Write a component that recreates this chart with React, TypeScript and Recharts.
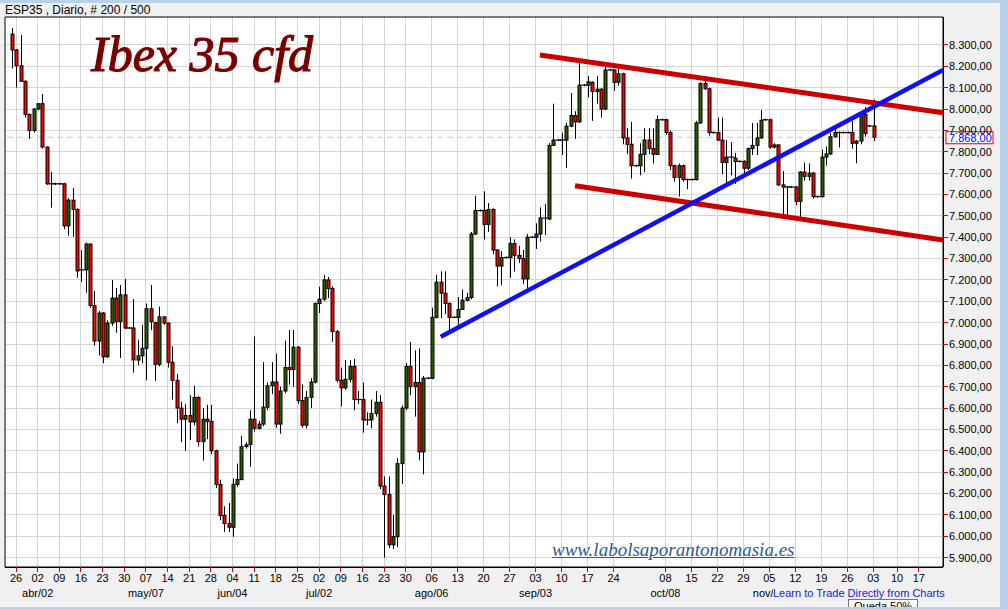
import React from 'react';
import { ComposedChart, Bar, XAxis, YAxis, CartesianGrid, ReferenceLine, ReferenceArea } from 'recharts';

// daily bars, [open, high, low, close]
const candles: [number, number, number, number][] = [
  [8351, 8379, 8190, 8277], [8277, 8280, 8100, 8203], [8203, 8347, 8127, 8130], [8130, 8135, 7960, 7975],
  [7975, 7980, 7860, 7900], [7900, 8005, 7890, 8000], [8000, 8025, 7995, 8025], [8025, 8070, 7815, 7822],
  [7822, 7825, 7645, 7650], [7650, 7705, 7538, 7650], [7650, 7655, 7645, 7650], [7650, 7655, 7645, 7650],
  [7650, 7655, 7437, 7453], [7453, 7584, 7407, 7574], [7574, 7630, 7402, 7530], [7530, 7535, 7210, 7242],
  [7242, 7340, 7190, 7247], [7247, 7375, 7140, 7368], [7368, 7370, 7070, 7080], [7080, 7148, 6892, 6914],
  [6914, 7055, 6846, 7045], [7045, 7050, 6810, 6840], [6840, 7010, 6835, 6998], [6998, 7200, 6985, 7115],
  [7115, 7162, 6953, 7005], [7005, 7176, 6835, 7130], [7130, 7205, 6970, 6975], [6975, 6980, 6970, 6975],
  [6975, 7110, 6766, 6825], [6825, 6920, 6800, 6845], [6845, 6990, 6810, 6880], [6880, 7090, 6730, 7065],
  [7065, 7176, 6965, 7005], [7000, 7005, 6728, 6805], [6805, 7075, 6795, 7027], [7027, 7030, 6990, 6998],
  [6998, 7000, 6790, 6815], [6815, 6890, 6640, 6730], [6730, 6760, 6530, 6600], [6600, 6630, 6440, 6548],
  [6548, 6620, 6400, 6565], [6565, 6660, 6450, 6535], [6535, 6705, 6520, 6650], [6650, 6655, 6420, 6443],
  [6443, 6600, 6354, 6548], [6548, 6615, 6455, 6538], [6538, 6615, 6385, 6400], [6400, 6405, 6225, 6243],
  [6243, 6265, 6075, 6097], [6097, 6140, 6020, 6060], [6060, 6155, 6020, 6042], [6042, 6270, 5997, 6243],
  [6243, 6340, 6230, 6265], [6265, 6470, 6265, 6420], [6420, 6440, 6410, 6428], [6430, 6590, 6325, 6548],
  [6548, 6935, 6490, 6505], [6505, 6540, 6500, 6525], [6525, 6815, 6515, 6604], [6604, 6720, 6590, 6705],
  [6705, 6815, 6665, 6722], [6722, 6855, 6508, 6525], [6525, 6700, 6480, 6680], [6680, 6915, 6670, 6790],
  [6790, 6965, 6710, 6780], [6780, 6965, 6700, 6885], [6885, 6890, 6620, 6635], [6635, 6710, 6508, 6520],
  [6520, 6680, 6505, 6650], [6650, 6740, 6600, 6722], [6722, 7095, 6715, 7090], [7090, 7168, 7045, 7110],
  [7110, 7224, 7100, 7200], [7200, 7214, 7115, 7160], [7160, 7170, 6910, 6958], [6958, 6965, 6720, 6730],
  [6730, 6790, 6608, 6695], [6695, 6825, 6685, 6735], [6735, 6825, 6720, 6795], [6795, 6830, 6590, 6640],
  [6640, 6680, 6620, 6640], [6640, 6720, 6485, 6545], [6545, 6580, 6520, 6545], [6545, 6640, 6505, 6575],
  [6575, 6680, 6560, 6627], [6627, 6660, 6220, 6235], [6235, 6280, 5900, 6195], [6195, 6280, 5945, 5960],
  [5960, 6100, 5940, 5998], [5998, 6365, 5950, 6340], [6340, 6612, 6245, 6600], [6600, 6810, 6590, 6795],
  [6795, 6910, 6660, 6700], [6700, 6870, 6560, 6720], [6720, 6880, 6355, 6395], [6395, 6750, 6290, 6740],
  [6740, 6745, 6735, 6740], [6740, 7070, 6735, 7025], [7025, 7224, 7020, 7190], [7190, 7240, 7020, 7138],
  [7138, 7240, 7040, 7090], [7090, 7095, 6965, 7025], [7025, 7030, 7020, 7025], [7025, 7120, 6990, 7062],
  [7062, 7155, 7060, 7105], [7105, 7140, 7100, 7118], [7118, 7425, 7110, 7415], [7415, 7595, 7410, 7525],
  [7525, 7530, 7520, 7525], [7525, 7615, 7390, 7460], [7460, 7560, 7425, 7530], [7530, 7535, 7320, 7340],
  [7340, 7345, 7170, 7265], [7265, 7335, 7175, 7305], [7305, 7310, 7300, 7305], [7305, 7400, 7210, 7370],
  [7370, 7390, 7240, 7315], [7315, 7360, 7280, 7300], [7300, 7340, 7180, 7205], [7205, 7415, 7160, 7400],
  [7400, 7405, 7395, 7400], [7400, 7465, 7345, 7415], [7415, 7540, 7380, 7490], [7490, 7555, 7410, 7490],
  [7485, 7840, 7480, 7830], [7830, 8025, 7830, 7855], [7855, 7860, 7850, 7855], [7855, 7890, 7785, 7855],
  [7855, 7935, 7725, 7920], [7920, 8075, 7915, 7970], [7970, 7990, 7860, 7940], [7940, 8222, 7935, 8112],
  [8112, 8117, 8107, 8112], [8112, 8155, 8055, 8128], [8125, 8130, 7945, 8082], [8082, 8155, 8025, 8093],
  [8093, 8098, 7960, 8000], [8000, 8205, 7995, 8183], [8183, 8188, 8178, 8183], [8183, 8185, 8085, 8125],
  [8125, 8190, 8110, 8165], [8165, 8170, 7835, 7865], [7865, 7910, 7790, 7835], [7835, 7940, 7675, 7735],
  [7735, 7740, 7730, 7735], [7735, 7840, 7690, 7788], [7788, 7910, 7705, 7855], [7855, 7910, 7790, 7815],
  [7815, 7910, 7745, 7788], [7788, 7970, 7785, 7950], [7950, 7955, 7945, 7950], [7950, 7955, 7880, 7890],
  [7890, 7900, 7715, 7735], [7735, 7740, 7660, 7680], [7680, 7745, 7590, 7735], [7735, 7740, 7660, 7670],
  [7670, 7675, 7625, 7670], [7670, 7675, 7665, 7670], [7670, 7945, 7665, 7935], [7935, 8125, 7930, 8120],
  [8120, 8155, 8090, 8095], [8095, 8100, 7875, 7890], [7890, 7895, 7885, 7890], [7890, 7960, 7850, 7855],
  [7855, 7960, 7695, 7750], [7750, 7855, 7650, 7775], [7775, 7845, 7690, 7775], [7770, 7795, 7650, 7755],
  [7755, 7760, 7750, 7755], [7755, 7760, 7700, 7723], [7723, 7820, 7715, 7815], [7815, 7935, 7785, 7830],
  [7830, 7935, 7785, 7865], [7865, 7995, 7860, 7948], [7950, 7955, 7945, 7950], [7950, 7955, 7815, 7822],
  [7832, 7840, 7815, 7822], [7832, 7835, 7640, 7645], [7645, 7710, 7505, 7635], [7635, 7640, 7505, 7635],
  [7635, 7640, 7630, 7635], [7635, 7640, 7550, 7568], [7568, 7710, 7495, 7705], [7705, 7750, 7665, 7685],
  [7685, 7745, 7665, 7700], [7700, 7705, 7580, 7590], [7590, 7595, 7585, 7590], [7590, 7810, 7585, 7775],
  [7775, 7825, 7735, 7790], [7790, 7888, 7785, 7870], [7870, 7920, 7865, 7890], [7890, 7895, 7820, 7890],
  [7890, 7895, 7885, 7890], [7890, 7895, 7885, 7890], [7890, 7945, 7815, 7840], [7840, 7855, 7746, 7850],
  [7850, 7990, 7835, 7975], [7975, 8010, 7870, 7885], [7921, 7925, 7915, 7921], [7921, 8045, 7850, 7868],
];

// week ticks, as bar positions
const weekTicks = [1, 6, 11, 16, 21, 26, 31, 36, 41, 46, 51, 56, 61, 66, 71, 76, 81, 86, 91, 97, 103, 109, 115,
  121, 127, 133, 139, 151, 157, 163, 169, 175, 181, 187, 193, 199, 204.5, 209.5];
const dayLabels = ['26', '02', '09', '16', '23', '30', '07', '14', '21', '28', '04', '11', '18', '25', '02', '09',
  '16', '23', '30', '06', '13', '20', '27', '03', '10', '17', '24', '08', '15', '22', '29', '05', '12', '19', '26',
  '03', '10', '17'];
const monthTicks = [6, 31, 51, 71, 97, 121, 151, 175];
const monthLabels = ['abr/02', 'may/07', 'jun/04', 'jul/02', 'ago/06', 'sep/03', 'oct/08', 'nov/05'];

const priceTicks = [5900, 6000, 6100, 6200, 6300, 6400, 6500, 6600, 6700, 6800, 6900, 7000, 7100, 7200, 7300,
  7400, 7500, 7600, 7700, 7800, 7900, 8000, 8100, 8200, 8300];
const lastPrice = 7868;

// drawn trend lines
const upperChannel = [{ x: 122, y: 8253 }, { x: 215.1, y: 7983 }];
const lowerChannel = [{ x: 130.1, y: 7641 }, { x: 215.1, y: 7387 }];
const supportLine = [{ x: 99.1, y: 6934 }, { x: 215.1, y: 8183 }];

const data = candles.map(([o, h, l, c], i) => ({ i, o, h, l, c }));

const fmt = (v: number) => `${Math.floor(v / 1000)}.${String(Math.round(v) % 1000).padStart(3, '0')},00`;
const FONT = '"Liberation Sans", Arial, sans-serif';
const GRID = '#d4d4d4';

const Candle = (props: any) => {
  const { x, y, width, height, payload } = props;
  if (!payload || !isFinite(y) || !isFinite(height)) return null;
  const { o, h, l, c } = payload;
  const k = h > l ? height / (h - l) : 0;
  const cx = Math.round(x + width / 2) + 0.5;
  const yO = y + (h - o) * k;
  const yC = y + (h - c) * k;
  const bh = Math.abs(yO - yC);
  return (
    <g>
      <line x1={cx} x2={cx} y1={y} y2={y + height} stroke="#000" strokeWidth={1} />
      {bh < 1.5 ? (
        <line x1={cx - 3} x2={cx + 3} y1={yC} y2={yC} stroke="#000" strokeWidth={1.2} />
      ) : (
        <rect x={cx - 1.5} y={Math.min(yO, yC)} width={3} height={bh}
          fill={c >= o ? '#2e5c04' : '#ff0000'} stroke="#000" strokeWidth={1} />
      )}
    </g>
  );
};

const DayTick = (props: any) => {
  const { x, y, payload } = props;
  const d = weekTicks.indexOf(payload.value);
  const m = monthTicks.indexOf(payload.value);
  return (
    <g fontFamily={FONT} fontSize={11} fill="#000">
      <text x={x} y={y + 8} textAnchor="middle">{dayLabels[d]}</text>
      {m >= 0 && <text x={x} y={y + 23} textAnchor="middle">{monthLabels[m]}</text>}
    </g>
  );
};

const PriceTag = (props: any) => {
  const { viewBox } = props;
  if (!viewBox) return null;
  const x = viewBox.x + viewBox.width + 3;
  const y = viewBox.y;
  return (
    <g>
      <rect x={x} y={y - 5.5} width={47} height={12} fill="#fff" stroke="#e00000" strokeWidth={1} />
      <text x={x + 3} y={y + 4.5} fontFamily={FONT} fontSize={11} fill="#0000ff">{fmt(lastPrice)}</text>
    </g>
  );
};

export default function App() {
  return (
    <div style={{ position: 'absolute', left: 0, top: 0, width: 1008, height: 609, background: '#f0f0f0', overflow: 'hidden', fontFamily: FONT }}>
      <style>{`.grid-line line, .recharts-cartesian-axis-tick-line, .recharts-cartesian-axis-line { shape-rendering: crispEdges; }`}</style>
      <div style={{ position: 'absolute', left: 0, top: 0, width: 1008, height: 3, background: '#b9d1ea' }} />
      <div style={{ position: 'absolute', left: 5, top: 3, fontSize: 12, lineHeight: '14px', color: '#000' }}>ESP35 , Diario, # 200 / 500</div>
      <ComposedChart width={1000} height={609} data={data} margin={{ top: 17, right: 0, bottom: 0, left: 5 }}>
        <XAxis xAxisId="n" dataKey="i" type="number" scale="linear" domain={[-1.55, 215.1]} allowDataOverflow ticks={weekTicks} interval={0}
          height={42} tickSize={5} tickLine={{ stroke: '#e00000' }} axisLine={{ stroke: '#000' }} tick={<DayTick />} />
        <XAxis xAxisId="c" dataKey="i" type="category" hide height={0} padding={{ left: 4.5, right: 67.5 }} />
        <YAxis orientation="right" domain={[5856, 8431]} allowDataOverflow ticks={priceTicks} interval={0} width={57}
          tickSize={5} tickMargin={1} tickFormatter={fmt} tickLine={{ stroke: '#e00000' }} axisLine={{ stroke: '#000' }}
          tick={{ fontSize: 11, fill: '#000', fontFamily: FONT, textAnchor: 'start' }} />
        <CartesianGrid xAxisId="n" horizontal={false} vertical={false} fill="#ffffff" />
        {weekTicks.map((t) => (
          <ReferenceLine key={`v${t}`} xAxisId="n" x={t} stroke={GRID} strokeWidth={1} className="grid-line" zIndex={-90} />
        ))}
        {priceTicks.map((p) => (
          <ReferenceLine key={`h${p}`} xAxisId="n" y={p} stroke={GRID} strokeWidth={1} className="grid-line" zIndex={-90} />
        ))}
        <ReferenceLine xAxisId="n" y={lastPrice} stroke="#c8c8c8" strokeDasharray="6 4" label={<PriceTag />} zIndex={-80} />
        <ReferenceArea xAxisId="n" x1={-1.55} x2={215.1} y1={5856} y2={8431} fill="none" stroke="#000" strokeWidth={1} />
        <Bar xAxisId="c" dataKey={(d: any) => [d.l, d.h]} barSize={3} shape={<Candle />} isAnimationActive={false} />
        <ReferenceLine xAxisId="n" segment={upperChannel} stroke="#cc0000" strokeWidth={5} />
        <ReferenceLine xAxisId="n" segment={lowerChannel} stroke="#cc0000" strokeWidth={5} />
        <ReferenceLine xAxisId="n" segment={supportLine} stroke="#1010f0" strokeWidth={4.5} />
      </ComposedChart>
      <div style={{ position: 'absolute', left: 91, top: 29, fontFamily: '"Liberation Serif", serif', fontStyle: 'italic', fontSize: 50, lineHeight: '50px', color: '#7a0000', WebkitTextStroke: '1.2px #7a0000', whiteSpace: 'nowrap' }}>Ibex 35 cfd</div>
      <div style={{ position: 'absolute', left: 552, top: 540, fontFamily: '"Liberation Serif", serif', fontStyle: 'italic', fontSize: 19, lineHeight: '20px', color: '#2a5c96', textDecoration: 'underline', whiteSpace: 'nowrap' }}>www.labolsaporantonomasia.es</div>
      <div style={{ position: 'absolute', left: 773, top: 587, fontSize: 11, lineHeight: '13px', color: '#2222c4', background: '#f0f0f0', paddingRight: 4, whiteSpace: 'nowrap' }}>Learn to Trade Directly from Charts</div>
      <div style={{ position: 'absolute', left: 848, top: 599, width: 70, height: 14, background: '#fff', border: '1px solid #767676', fontSize: 11, lineHeight: '13px', paddingLeft: 5, boxSizing: 'border-box', color: '#000' }}>Queda 50%</div>
      <div style={{ position: 'absolute', left: 0, top: 607, width: 1008, height: 2, background: '#b9d1ea' }} />
      <div style={{ position: 'absolute', left: 1000, top: 0, width: 8, height: 609, background: '#b9d1ea' }} />
    </div>
  );
}
